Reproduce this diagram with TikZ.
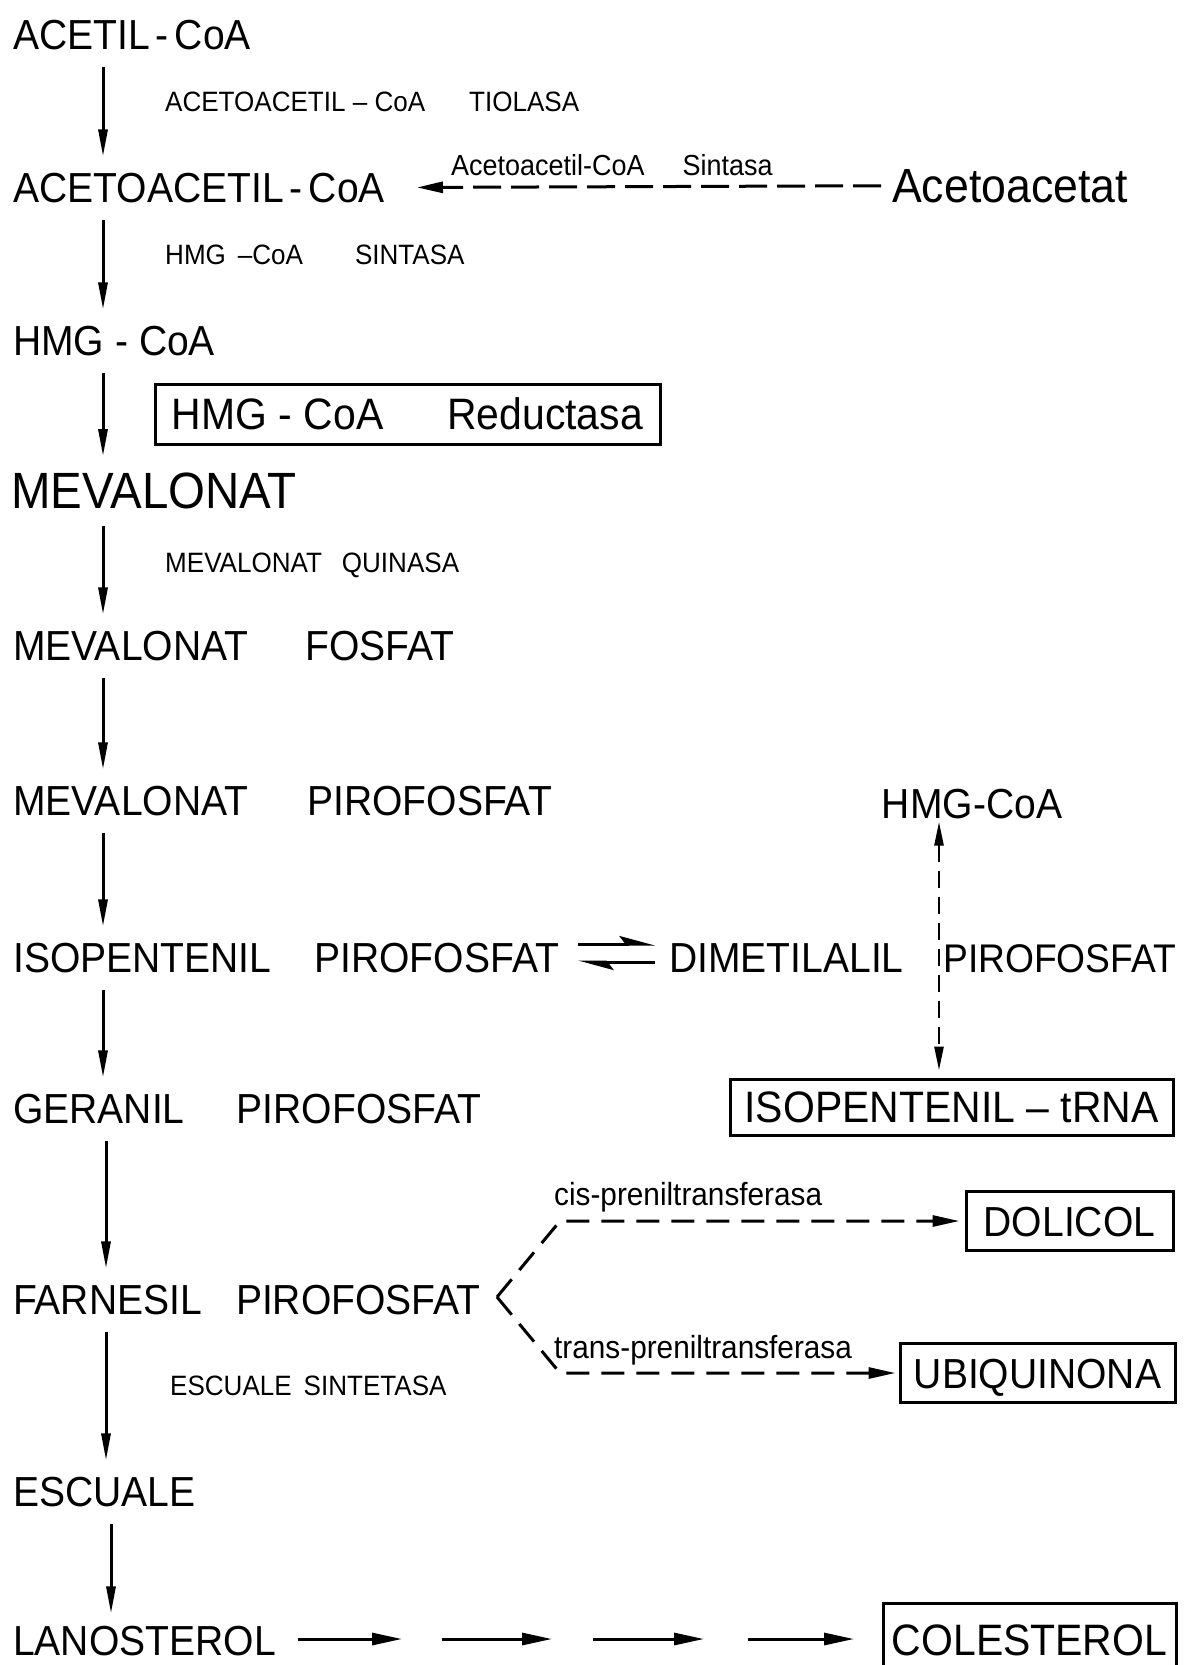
\documentclass[tikz,border=0pt]{standalone}
\usepackage{fontspec}
\setmainfont{Liberation Sans}[FakeStretch=0.93]
\usetikzlibrary{arrows.meta}
\newcommand\bigsz{\fontsize{42}{48}\selectfont}
\newcommand\smsz{\fontsize{28}{32}\selectfont}
\begin{document}
\begin{tikzpicture}[x=1pt,y=-1pt,
  met/.style={inner sep=0pt,anchor=base west,font=\bigsz},
  enz/.style={inner sep=0pt,anchor=base west,font=\smsz},
  prodbox/.style={draw,line width=3pt,inner sep=0pt,text height=30pt,text depth=0pt,font=\bigsz},
  bigtip/.tip={Triangle[length=27pt,width=9pt]},
  down/.style={line width=3pt,-{bigtip},shorten <=17pt,shorten >=16pt},
  dashleft/.style={line width=3pt,dash pattern=on 28pt off 10pt,-{Triangle[length=26pt,width=11pt]}},
  dashvert/.style={line width=2.6pt,dash pattern=on 17pt off 9pt,{Triangle[length=24pt,width=9pt]}-{Triangle[length=24pt,width=9pt]}},
  dashbranch/.style={line width=3pt,dash pattern=on 23pt off 12pt,-{Triangle[length=27pt,width=11pt]}},
  harp/.style={line width=3pt,-{Stealth[harpoon,length=30pt,width=16pt,inset=6pt]}},
  stepar/.style={line width=3pt,-{Triangle[length=30pt,width=12pt]}}
]
\fill[white] (0,0) rectangle (1186,1665);
\useasboundingbox (0,0) rectangle (1186,1665);

% arrow columns
\coordinate (colA) at (103,0);
\coordinate (colB) at (106,0);
\coordinate (colC) at (111,0);

% main pathway
\node[met] (acetil) at (13,49) {ACETIL\hspace{6pt}-\hspace{6pt}CoA};
\node[met] (acac) at (13,202) {ACETOACETIL\hspace{6pt}-\hspace{6pt}CoA};
\node[met] (hmg) at (13,355) {HMG - CoA};
\node[met,font=\fontsize{51}{56}\selectfont] (mev) at (11,508) {MEVALONAT};
\node[met] (mevp) at (13,660) {MEVALONAT\hspace{57pt}FOSFAT};
\node[met] (mevpp) at (13,815) {MEVALONAT\hspace{59pt}PIROFOSFAT};
\node[met] (ipp) at (13,972) {ISOPENTENIL\hspace{43pt}PIROFOSFAT};
\node[met] (gpp) at (13,1123) {GERANIL\hspace{52pt}PIROFOSFAT};
\node[met] (fpp) at (13,1314) {FARNESIL\hspace{34pt}PIROFOSFAT};
\node[met] (esc) at (13,1506) {ESCUALE};
\node[met] (lano) at (13,1655) {LANOSTEROL};

% enzymes
\node[enz] (e1) at (165,111) {ACETOACETIL – CoA\hspace{44pt}TIOLASA};
\node[enz] (e2) at (165,264) {HMG\hspace{12pt}–CoA\hspace{52pt}SINTASA};
\node[prodbox,font=\fontsize{44}{48}\selectfont,minimum width=505pt,minimum height=60pt] (red) at (407.5,414) {HMG - CoA\hspace{64pt}Reductasa};
\node[enz] (e4) at (165,572) {MEVALONAT\hspace{20pt}QUINASA};
\node[enz] (e5) at (170,1395) {ESCUALE\hspace{12pt}SINTETASA};

% side branches
\node[met,font=\fontsize{48}{52}\selectfont] (aac) at (892,202) {Acetoacetat};
\node[enz,font=\fontsize{29}{32}\selectfont] (e6) at (451,175) {Acetoacetil-CoA\hspace{38pt}Sintasa};
\node[met,anchor=base] (hmgr) at (972,818) {HMG-CoA};
\node[met] (dma) at (669,972) {DIMETILALIL};
\node[met,font=\fontsize{40}{46}\selectfont] (dmapp) at (943,972) {PIROFOSFAT};
\node[prodbox,font=\fontsize{44}{48}\selectfont,minimum width=443pt,minimum height=56pt] (trna) at (951.5,1107) {ISOPENTENIL – tRNA};
\node[prodbox,minimum width=207pt,minimum height=59pt] (dol) at (1069.5,1221) {DOLICOL};
\node[prodbox,minimum width=275pt,minimum height=59pt] (ubi) at (1037.5,1373) {UBIQUINONA};
\node[prodbox,font=\fontsize{44}{48}\selectfont,minimum width=293pt,minimum height=74pt] (col) at (1029.5,1640) {COLESTEROL};
\node[enz,font=\fontsize{32}{36}\selectfont] (cis) at (554,1205) {cis-preniltransferasa};
\node[enz,font=\fontsize{32}{36}\selectfont] (trans) at (554,1358) {trans-preniltransferasa};

% vertical steps
\draw[down] (acetil.south -| colA) -- (acac.north -| colA);
\draw[down] (acac.south -| colA) -- (hmg.north -| colA);
\draw[down] (hmg.south -| colA) -- (mev.north -| colA);
\draw[down] (mev.south -| colA) -- (mevp.north -| colA);
\draw[down] (mevp.south -| colA) -- (mevpp.north -| colA);
\draw[down] (mevpp.south -| colA) -- (ipp.north -| colA);
\draw[down] (ipp.south -| colA) -- (gpp.north -| colA);
\draw[down] (gpp.south -| colB) -- (fpp.north -| colB);
\draw[down] (fpp.south -| colB) -- (esc.north -| colB);
\draw[down,shorten >=12pt] (esc.south -| colC) -- (lano.north -| colC);

% acetoacetate entry
\draw[dashleft,shorten <=11pt,shorten >=32pt] (aac.west) -- (acac.east);

% isomerisation
\coordinate (eqa) at (578,944);
\coordinate (eqb) at (655,944);
\coordinate (eqc) at (655,962);
\coordinate (eqd) at (578,962);
\draw[harp] (eqa) -- (eqb);
\draw[harp] (eqc) -- (eqd);

% HMG-CoA <-> isopentenyl-tRNA
\coordinate (vx) at (939,0);
\draw[dashvert,shorten <=3pt,shorten >=7pt] (hmgr.south -| vx) -- (trna.north -| vx);

% prenyl transferase branches
\coordinate (fv) at (497,1297);
\coordinate (cu) at (560,1221);
\coordinate (cl) at (560,1373);
\draw[dashbranch,shorten >=5pt] (fv) -- (cu) -- (dol.west);
\draw[dashbranch,shorten >=3pt] (fv) -- (cl) -- (ubi.west);

% lanosterol to cholesterol
\coordinate (l1) at (298,1639);
\coordinate (l2) at (402,1639);
\coordinate (l3) at (442,1639);
\coordinate (l4) at (552,1639);
\coordinate (l5) at (593,1639);
\coordinate (l6) at (704,1639);
\coordinate (l7) at (748,1639);
\coordinate (l8) at (854,1639);
\draw[stepar] (l1) -- (l2);
\draw[stepar] (l3) -- (l4);
\draw[stepar] (l5) -- (l6);
\draw[stepar] (l7) -- (l8);
\end{tikzpicture}
\end{document}
